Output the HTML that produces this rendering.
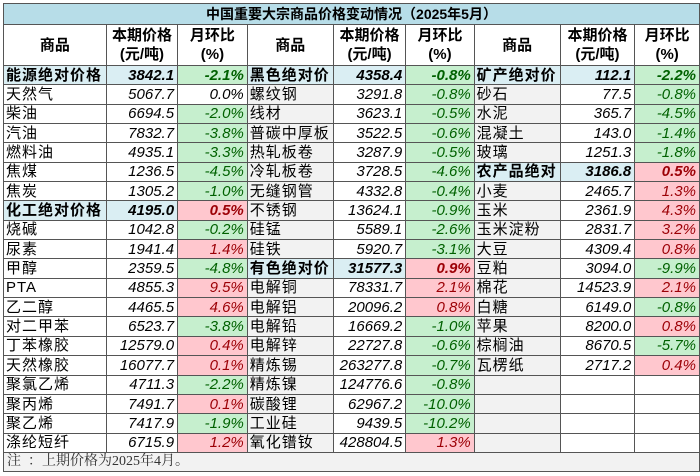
<!DOCTYPE html>
<html><head><meta charset="utf-8"><style>
body{margin:0;width:700px;height:476px;background:#fff;overflow:hidden;font-family:"Liberation Sans","Noto Sans CJK SC",sans-serif;}
table{position:absolute;left:3px;top:3px;border-collapse:collapse;table-layout:fixed;}
td{border:1px solid #555;padding:0 3px;font-size:15px;white-space:nowrap;overflow:hidden;height:18.35px;line-height:17px;}
td.n{text-align:left;letter-spacing:1px;padding-left:2px}
td.p{text-align:right;font-style:italic;}
td.c{text-align:right;font-style:italic;}
.g{background:#c6efce;color:#006100}
.r{background:#ffc7ce;color:#9c0006}
.a{background:#daeef3;font-weight:bold}
.ab{font-weight:bold}
.gr{background:#f2f2f2}
tr.t td{background:#b7dde8;font-weight:bold;text-align:center;height:20px;font-size:14px}
tr.h td{font-weight:bold;text-align:center;height:40px;line-height:19px;font-size:15px}
tr.note td{background:#f2f2f2;height:18px;font-family:"Liberation Serif","Noto Serif CJK SC",serif;font-size:14px;color:#333}
</style></head><body>
<table>
<colgroup><col style="width:103px"><col style="width:72px"><col style="width:73px"><col style="width:74px"><col style="width:73px"><col style="width:71px"><col style="width:83px"><col style="width:76px"><col style="width:67px"></colgroup>
<tr class="t"><td colspan="9">中国重要大宗商品价格变动情况（2025年5月）</td></tr>
<tr class="h"><td>商品</td><td>本期价格<br>(元/吨)</td><td>月环比<br>(%)</td><td>商品</td><td>本期价格<br>(元/吨)</td><td>月环比<br>(%)</td><td>商品</td><td>本期价格<br>(元/吨)</td><td>月环比<br>(%)</td></tr>
<tr><td class="n a">能源绝对价格</td><td class="p a">3842.1</td><td class="c g ab">-2.1%</td><td class="n a">黑色绝对价</td><td class="p a">4358.4</td><td class="c g ab">-0.8%</td><td class="n a">矿产绝对价</td><td class="p a">112.1</td><td class="c g ab">-2.2%</td></tr>
<tr><td class="n">天然气</td><td class="p">5067.7</td><td class="c">0.0%</td><td class="n gr">螺纹钢</td><td class="p">3291.8</td><td class="c g">-0.8%</td><td class="n gr">砂石</td><td class="p">77.5</td><td class="c g">-0.8%</td></tr>
<tr><td class="n">柴油</td><td class="p">6694.5</td><td class="c g">-2.0%</td><td class="n gr">线材</td><td class="p">3623.1</td><td class="c g">-0.5%</td><td class="n gr">水泥</td><td class="p">365.7</td><td class="c g">-4.5%</td></tr>
<tr><td class="n">汽油</td><td class="p">7832.7</td><td class="c g">-3.8%</td><td class="n gr">普碳中厚板</td><td class="p">3522.5</td><td class="c g">-0.6%</td><td class="n gr">混凝土</td><td class="p">143.0</td><td class="c g">-1.4%</td></tr>
<tr><td class="n">燃料油</td><td class="p">4935.1</td><td class="c g">-3.3%</td><td class="n gr">热轧板卷</td><td class="p">3287.9</td><td class="c g">-0.5%</td><td class="n gr">玻璃</td><td class="p">1251.3</td><td class="c g">-1.8%</td></tr>
<tr><td class="n">焦煤</td><td class="p">1236.5</td><td class="c g">-4.5%</td><td class="n gr">冷轧板卷</td><td class="p">3728.5</td><td class="c g">-4.6%</td><td class="n a">农产品绝对</td><td class="p a">3186.8</td><td class="c r ab">0.5%</td></tr>
<tr><td class="n">焦炭</td><td class="p">1305.2</td><td class="c g">-1.0%</td><td class="n gr">无缝钢管</td><td class="p">4332.8</td><td class="c g">-0.4%</td><td class="n gr">小麦</td><td class="p">2465.7</td><td class="c r">1.3%</td></tr>
<tr><td class="n a">化工绝对价格</td><td class="p a">4195.0</td><td class="c r ab">0.5%</td><td class="n gr">不锈钢</td><td class="p">13624.1</td><td class="c g">-0.9%</td><td class="n gr">玉米</td><td class="p">2361.9</td><td class="c r">4.3%</td></tr>
<tr><td class="n">烧碱</td><td class="p">1042.8</td><td class="c g">-0.2%</td><td class="n gr">硅锰</td><td class="p">5589.1</td><td class="c g">-2.6%</td><td class="n gr">玉米淀粉</td><td class="p">2831.7</td><td class="c r">3.2%</td></tr>
<tr><td class="n">尿素</td><td class="p">1941.4</td><td class="c r">1.4%</td><td class="n gr">硅铁</td><td class="p">5920.7</td><td class="c g">-3.1%</td><td class="n gr">大豆</td><td class="p">4309.4</td><td class="c r">0.8%</td></tr>
<tr><td class="n">甲醇</td><td class="p">2359.5</td><td class="c g">-4.8%</td><td class="n a">有色绝对价</td><td class="p a">31577.3</td><td class="c r ab">0.9%</td><td class="n gr">豆粕</td><td class="p">3094.0</td><td class="c g">-9.9%</td></tr>
<tr><td class="n">PTA</td><td class="p">4855.3</td><td class="c r">9.5%</td><td class="n gr">电解铜</td><td class="p">78331.7</td><td class="c r">2.1%</td><td class="n gr">棉花</td><td class="p">14523.9</td><td class="c r">2.1%</td></tr>
<tr><td class="n">乙二醇</td><td class="p">4465.5</td><td class="c r">4.6%</td><td class="n gr">电解铝</td><td class="p">20096.2</td><td class="c r">0.8%</td><td class="n gr">白糖</td><td class="p">6149.0</td><td class="c g">-0.8%</td></tr>
<tr><td class="n">对二甲苯</td><td class="p">6523.7</td><td class="c g">-3.8%</td><td class="n gr">电解铅</td><td class="p">16669.2</td><td class="c g">-1.0%</td><td class="n gr">苹果</td><td class="p">8200.0</td><td class="c r">0.8%</td></tr>
<tr><td class="n">丁苯橡胶</td><td class="p">12579.0</td><td class="c r">0.4%</td><td class="n gr">电解锌</td><td class="p">22727.8</td><td class="c g">-0.6%</td><td class="n gr">棕榈油</td><td class="p">8670.5</td><td class="c g">-5.7%</td></tr>
<tr><td class="n">天然橡胶</td><td class="p">16077.7</td><td class="c r">0.1%</td><td class="n gr">精炼锡</td><td class="p">263277.8</td><td class="c g">-0.7%</td><td class="n gr">瓦楞纸</td><td class="p">2717.2</td><td class="c r">0.4%</td></tr>
<tr><td class="n">聚氯乙烯</td><td class="p">4711.3</td><td class="c g">-2.2%</td><td class="n gr">精炼镍</td><td class="p">124776.6</td><td class="c g">-0.8%</td><td class="n gr"></td><td class="p"></td><td class="c"></td></tr>
<tr><td class="n">聚丙烯</td><td class="p">7491.7</td><td class="c r">0.1%</td><td class="n gr">碳酸锂</td><td class="p">62967.2</td><td class="c g">-10.0%</td><td class="n gr"></td><td class="p"></td><td class="c"></td></tr>
<tr><td class="n">聚乙烯</td><td class="p">7417.9</td><td class="c g">-1.9%</td><td class="n gr">工业硅</td><td class="p">9439.5</td><td class="c g">-10.2%</td><td class="n gr"></td><td class="p"></td><td class="c"></td></tr>
<tr><td class="n">涤纶短纤</td><td class="p">6715.9</td><td class="c r">1.2%</td><td class="n gr">氧化镨钕</td><td class="p">428804.5</td><td class="c r">1.3%</td><td class="n gr"></td><td class="p"></td><td class="c"></td></tr>
<tr class="note"><td colspan="9">注&nbsp;&nbsp;：上期价格为2025年4月。</td></tr>
</table>
</body></html>
